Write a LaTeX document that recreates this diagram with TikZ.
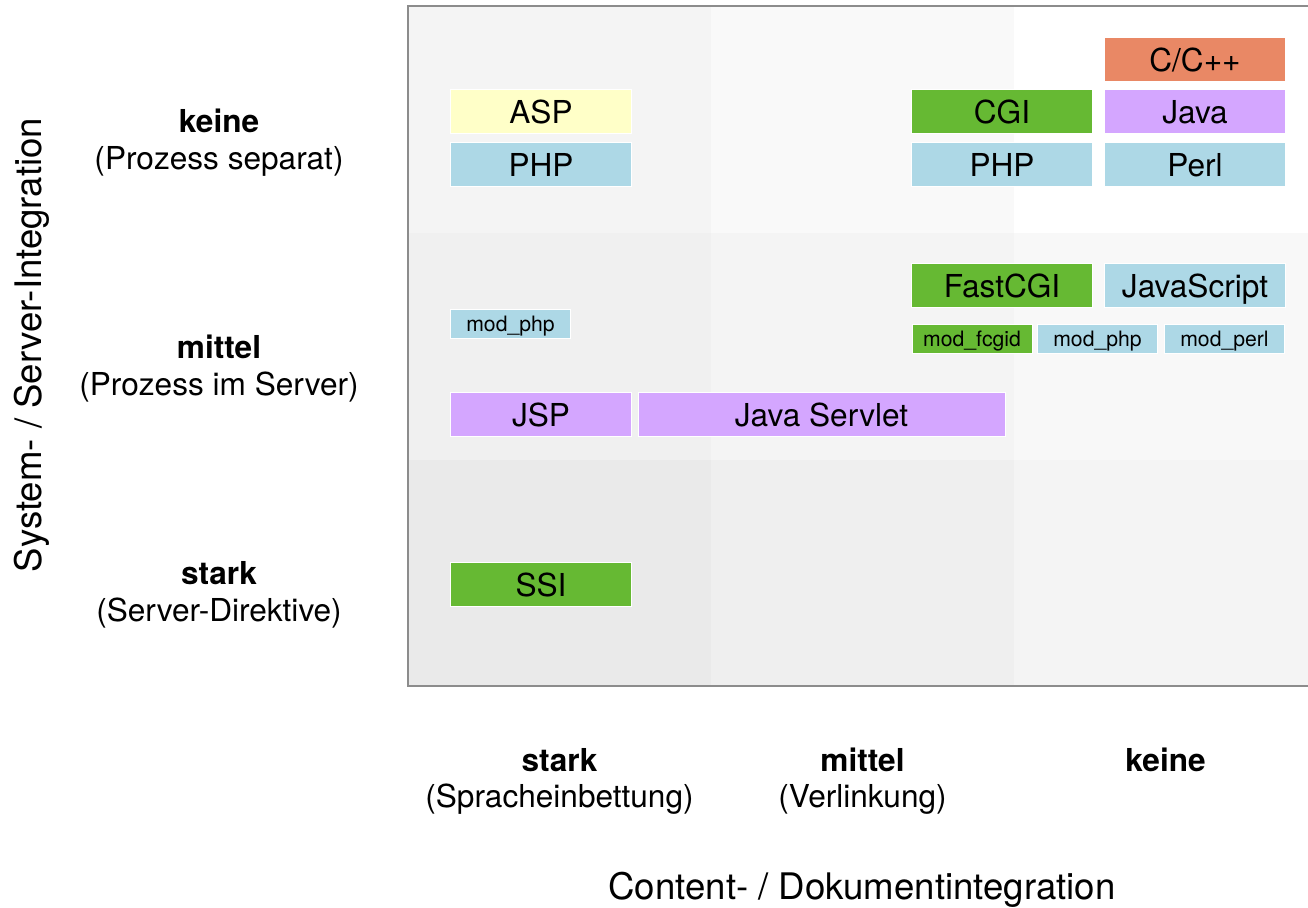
\documentclass[tikz,border=0pt]{standalone}
\usepackage{fontspec}
\setmainfont{TeX Gyre Heros}

\tikzset{every picture/.style={line width=0.75pt}}
\tikzset{
	techbox/.style={draw=white, line width=0.5pt, inner sep=0pt, minimum width=90.5pt, minimum height=22pt, text height=12.4pt, text depth=0pt, font=\fontsize{15.8}{19}\selectfont},
	modbox/.style={draw=white, line width=0.5pt, inner sep=0pt, minimum width=60pt, minimum height=14.5pt, text height=8.4pt, text depth=0pt, font=\fontsize{10.6}{12}\selectfont},
	levellabel/.style={anchor=base, inner sep=0.75pt, font=\fontsize{15.8}{19}\selectfont},
	axislabel/.style={anchor=base, inner sep=0.75pt, font=\fontsize{18.3}{22}\selectfont},
	cblue/.style={fill={rgb, 255:red, 173; green, 216; blue, 230 }},
	cgreen/.style={fill={rgb, 255:red, 102; green, 185; blue, 51 }},
	cpurple/.style={fill={rgb, 255:red, 212; green, 166; blue, 255 }},
	csalmon/.style={fill={rgb, 255:red, 233; green, 136; blue, 101 }},
	cyellow/.style={fill={rgb, 255:red, 255; green, 255; blue, 200 }}
}

\begin{document}
\begin{tikzpicture}[x=0.5pt,y=0.5pt,yscale=-1,xscale=1]
	\path [use as bounding box] (0,0) rectangle (1308,907);
	
	%Shape: Cells, upper row
	\fill [color={rgb, 255:red, 244; green, 244; blue, 244 }] (408,6) rectangle (711,233);
	\fill [color={rgb, 255:red, 249; green, 249; blue, 249 }] (711,6) rectangle (1014,233);
	\fill [color={rgb, 255:red, 255; green, 255; blue, 255 }] (1014,6) rectangle (1320,233);
	%Shape: Cells, middle row
	\fill [color={rgb, 255:red, 240; green, 240; blue, 240 }] (408,233) rectangle (711,460);
	\fill [color={rgb, 255:red, 244; green, 244; blue, 244 }] (711,233) rectangle (1014,460);
	\fill [color={rgb, 255:red, 248; green, 248; blue, 248 }] (1014,233) rectangle (1320,460);
	%Shape: Cells, lower row
	\fill [color={rgb, 255:red, 234; green, 234; blue, 234 }] (408,460) rectangle (711,686);
	\fill [color={rgb, 255:red, 239; green, 239; blue, 239 }] (711,460) rectangle (1014,686);
	\fill [color={rgb, 255:red, 244; green, 244; blue, 244 }] (1014,460) rectangle (1320,686);
	%Shape: Frame
	\draw [color={rgb, 255:red, 140; green, 140; blue, 140 }, line width=1pt] (408,6) rectangle (1320,686);
	
	% Boxes: keine
	\draw (1195,59) node (cpp) [techbox, csalmon] {C/C++};
	\draw (541,111.5) node (asp) [techbox, cyellow] {ASP};
	\draw (1002,111.5) node (cgi) [techbox, cgreen] {CGI};
	\draw (1195,111.5) node (java) [techbox, cpurple] {Java};
	\draw (541,164.5) node (phpembed) [techbox, cblue] {PHP};
	\draw (1002,164.5) node (phpcgi) [techbox, cblue] {PHP};
	\draw (1195,164.5) node (perl) [techbox, cblue] {Perl};
	
	% Boxes: mittel
	\draw (1002,285.5) node (fastcgi) [techbox, cgreen] {FastCGI};
	\draw (1195,285.5) node (javascript) [techbox, cblue] {JavaScript};
	\draw (510.5,323.5) node (modphpembed) [modbox, cblue] {mod\_php};
	\draw (972,338.5) node (modfcgid) [modbox, cgreen] {mod\_fcgid};
	\draw (1097.5,338.5) node (modphp) [modbox, cblue] {mod\_php};
	\draw (1224.5,338.5) node (modperl) [modbox, cblue] {mod\_perl};
	\draw (541,414.5) node (jsp) [techbox, cpurple] {JSP};
	\draw (821.5,414.5) node (servlet) [techbox, cpurple, minimum width=183.5pt] {Java Servlet};
	
	% Boxes: stark
	\draw (541,584.5) node (ssi) [techbox, cgreen] {SSI};
	
	% Text Node
	\draw (219,132) node (ykeine) [levellabel] {\bfseries keine};
	\draw (219,169) node (ykeinesub) [levellabel] {(Prozess separat)};
	\draw (219,358) node (ymittel) [levellabel] {\bfseries mittel};
	\draw (219,395) node (ymittelsub) [levellabel] {(Prozess im Server)};
	\draw (219,584) node (ystark) [levellabel] {\bfseries stark};
	\draw (219,621) node (ystarksub) [levellabel] {(Server-Direktive)};
	% Text Node
	\draw (559.5,771) node (xstark) [levellabel] {\bfseries stark};
	\draw (559.5,807) node (xstarksub) [levellabel] {(Spracheinbettung)};
	\draw (862.5,771) node (xmittel) [levellabel] {\bfseries mittel};
	\draw (862.5,807) node (xmittelsub) [levellabel] {(Verlinkung)};
	\draw (1165.5,771) node (xkeine) [levellabel] {\bfseries keine};
	% Text Node
	\draw (41,345) node (yaxis) [axislabel, rotate=90] {System- / Server-Integration};
	\draw (862,899) node (xaxis) [axislabel] {Content- / Dokumentintegration};
	
\end{tikzpicture}
\end{document}
